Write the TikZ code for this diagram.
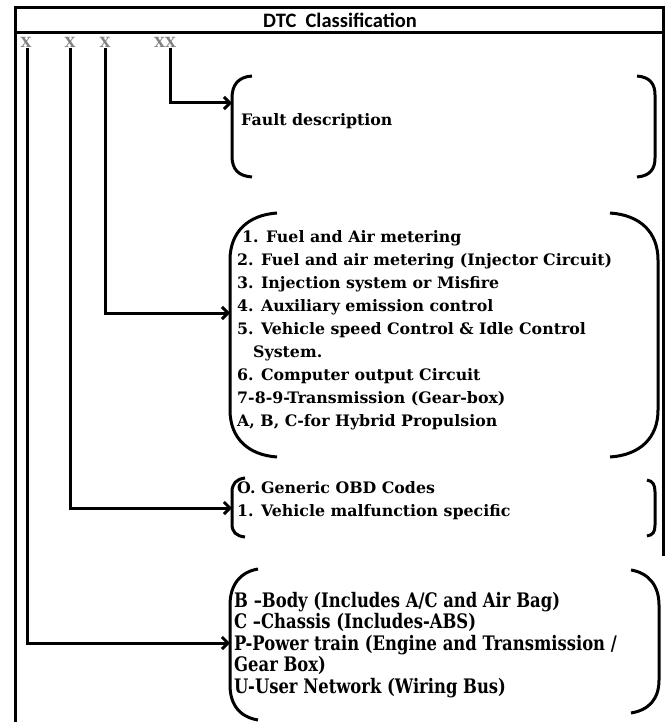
\documentclass[tikz,border=0pt]{standalone}
\usepackage{fontspec}
\setmainfont{DejaVu Serif}
\newfontfamily\titlefont{Carlito}
\newfontfamily\condfont[FakeStretch=0.82]{DejaVu Serif}
\usetikzlibrary{arrows.meta}
\definecolor{xgray}{RGB}{128,128,128}
\begin{document}
\begin{tikzpicture}[x=1pt,y=-1pt,
  frameline/.style={line width=3pt},
  conn/.style={line width=3pt,-{Straight Barb[length=6pt,width=12pt]}},
  paren/.style={line width=3pt},
  xlabel/.style={font=\bfseries\fontsize{14}{16}\selectfont,text=xgray,inner sep=0.5pt},
  items/.style={font=\bfseries\fontsize{15.8}{23}\selectfont,align=left,inner sep=0pt,anchor=north west},
  conditems/.style={font=\condfont\bfseries\fontsize{20}{21.5}\selectfont,align=left,inner sep=0pt,anchor=north west}
]
\useasboundingbox (0,0) rectangle (667,722);
% frame
\draw[frameline] (15,722) -- (15,8) -- (663,8) -- (663,556);
\draw[frameline] (15,33) -- (663,33);
\node[font=\titlefont\bfseries\fontsize{20.5}{22}\selectfont] (title) at (340,20) {DTC~~Classification};
% code letters
\node[xlabel] (x1) at (26,42) {X};
\node[xlabel] (x2) at (70,42) {X};
\node[xlabel] (x3) at (105,42) {X};
\node[xlabel] (x4) at (165,42) {XX};
% bracket targets
\coordinate (t4) at (232,103);
\coordinate (t3) at (230,313);
\coordinate (t2) at (232,508);
\coordinate (t1) at (230,643);
% connectors
\draw[conn] ([xshift=5pt]x4.south) |- (t4);
\draw[conn] (x3.south) |- (t3);
\draw[conn] (x2.south) |- (t2);
\draw[conn] ([xshift=1pt]x1.south) |- (t1);
% bracket 1
\draw[paren] (252,76) .. controls (238,77) and (232,85) .. (232,98) -- (232,156) .. controls (232,169) and (238,176) .. (252,177);
\draw[paren] (637,76) .. controls (650,77) and (655,84) .. (655,95) -- (655,158) .. controls (655,169) and (650,176) .. (637,177);
\node[items,anchor=west] (fault) at (241,121) {Fault description};
% bracket 2
\draw[paren] (277,213) .. controls (248,215) and (230,232) .. (230,260) -- (230,410) .. controls (230,438) and (248,455) .. (277,457);
\draw[paren] (610,213) .. controls (640,215) and (658,232) .. (658,260) -- (658,410) .. controls (658,438) and (640,455) .. (610,457);
\node[items] (pt) at (237,230) {\hspace*{5pt}1. Fuel and Air metering\\
2. Fuel and air metering (Injector Circuit)\\
3. Injection system or Misfire\\
4. Auxiliary emission control\\
5. Vehicle speed Control \& Idle Control\\
\hspace*{16pt}System.\\
6. Computer output Circuit\\
7-8-9-Transmission (Gear-box)\\
A, B, C-for Hybrid Propulsion};
% bracket 3
\draw[paren] (245,478) .. controls (236,479) and (232,484) .. (232,492) -- (232,524) .. controls (232,532) and (236,536) .. (245,537);
\draw[paren] (647,480) .. controls (653,481) and (655,485) .. (655,492) -- (655,525) .. controls (655,532) and (653,535) .. (647,536);
\node[items] (obd) at (237,481) {O. Generic OBD Codes\\1. Vehicle malfunction specific};
% bracket 4
\draw[paren] (258,569) .. controls (240,572) and (230,585) .. (230,605) -- (230,685) .. controls (230,705) and (240,717) .. (258,720);
\draw[paren] (631,570) .. controls (649,573) and (659,586) .. (659,605) -- (659,680) .. controls (659,699) and (649,710) .. (631,713);
\node[conditems] (sys) at (234,592) {B –Body (Includes A/C and Air Bag)\\
C –Chassis (Includes-ABS)\\
P-Power train (Engine and Transmission /\\
Gear Box)\\
U-User Network (Wiring Bus)};
\end{tikzpicture}
\end{document}
